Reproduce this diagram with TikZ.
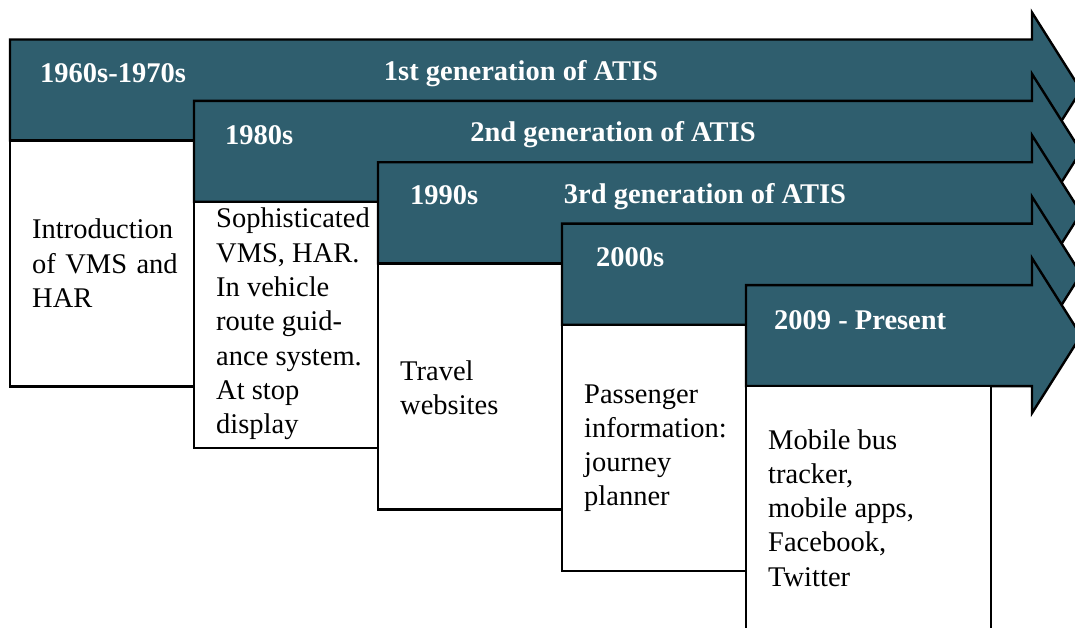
\documentclass[tikz,border=0pt]{standalone}
\usepackage{fontspec}
\setmainfont{Liberation Serif}
\definecolor{atisteal}{RGB}{47,94,110}
\begin{document}
\begin{tikzpicture}[x=1pt,y=-1pt,
  gen/.style={draw=black, line width=2.4pt, fill=atisteal, line join=miter},
  panel/.style={draw=black, line width=2.4pt, fill=white},
  datelbl/.style={anchor=base west, inner sep=0, text=white, font=\fontsize{28.5}{34}\selectfont\bfseries},
  genlbl/.style={anchor=base, inner sep=0, text=white, font=\fontsize{28.5}{34}\selectfont\bfseries},
  bodytxt/.style={anchor=base west, inner sep=0, font=\fontsize{28.5}{34.3}\selectfont}]
\useasboundingbox (0,0) rectangle (1075,628);
\clip (0,0) rectangle (1075,628);

% arrow: left edge, top edge; body 101 high, head 27 beyond body, tip at 1081
\newcommand\genarrow[2]{%
  \draw[gen] (#1,#2) -- (1032,#2) -- (1032,#2-27) -- (1081,#2+50.5)
    -- (1032,#2+128) -- (1032,#2+101) -- (#1,#2+101) -- cycle;}
\newcommand\genpanel[2]{%
  \draw[panel] (#1,#2+101) rectangle (#1+245,#2+347);}

% 1st generation
\genarrow{10}{39.5}
\node[datelbl] (d1) at (40,83) {1960s-1970s};
\node[genlbl] (g1) at (521,80.5) {1st generation of ATIS};
\genpanel{10}{39.5}
\node[bodytxt] (t1) at (32,239) {\parbox[t]{200pt}{\raggedright\spaceskip=0.33em Introduction\\of VMS and\\HAR}};

% 2nd generation
\genarrow{194}{100.9}
\node[datelbl] (d2) at (225,145) {1980s};
\node[genlbl] (g2) at (613,141.9) {2nd generation of ATIS};
\genpanel{194}{100.9}
\node[bodytxt] (t2) at (216,228) {\parbox[t]{200pt}{\raggedright Sophisticated\\VMS, HAR.\\In vehicle\\route guid-\\ance system.\\At stop\\display}};

% 3rd generation
\genarrow{378}{162.3}
\node[datelbl] (d3) at (410,205) {1990s};
\node[genlbl] (g3) at (705,203.3) {3rd generation of ATIS};
\genpanel{378}{162.3}
\node[bodytxt] (t3) at (400,380) {\parbox[t]{200pt}{\raggedright Travel\\websites}};

% 2000s
\genarrow{562}{223.7}
\node[datelbl] (d4) at (596,266) {2000s};
\genpanel{562}{223.7}
\node[bodytxt] (t4) at (584,403) {\parbox[t]{200pt}{\raggedright Passenger\\information:\\journey\\planner}};

% 2009 onwards
\genarrow{746}{285.1}
\node[datelbl] (d5) at (774,329) {2009 - Present};
\genpanel{746}{285.1}
\node[bodytxt] (t5) at (768,449) {\parbox[t]{200pt}{\raggedright Mobile bus\\tracker,\\mobile apps,\\Facebook,\\Twitter}};
\end{tikzpicture}
\end{document}
